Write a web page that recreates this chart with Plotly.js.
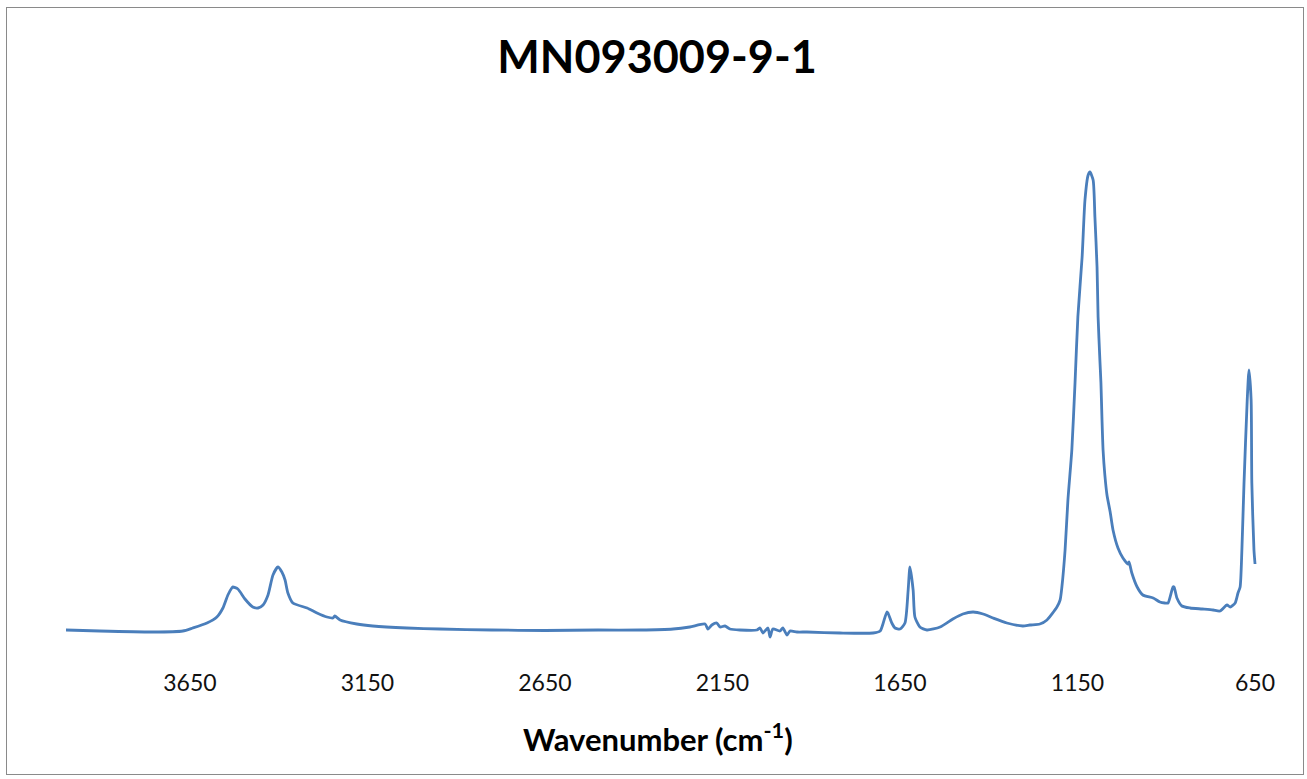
<!DOCTYPE html>
<html>
<head>
<meta charset="utf-8">
<script src="https://cdn.plot.ly/plotly-3.0.1.min.js"></script>
<style>
  html, body { margin: 0; padding: 0; background: #fff; }
  #wrap { position: relative; width: 1307px; height: 779px; }
  #chart { width: 1307px; height: 779px; }
  #frame { position: absolute; left: 6px; top: 7px; width: 1298px; height: 768px;
           border: 1px solid #8a8a8a; pointer-events: none; box-sizing: border-box; }
</style>
</head>
<body>
<div id="wrap">
  <div id="chart"></div>
  <div id="frame"></div>
</div>
<script>
// Wavenumber (cm-1)
const wavenumber = [
  4000, 3904, 3754, 3670, 3642, 3602, 3574, 3557, 3543, 3532, 3529, 3515, 3495, 3473, 3458,
  3444, 3430, 3416, 3402, 3391, 3382, 3374, 3360, 3320, 3292, 3264, 3247, 3242, 3227, 3180,
  3135, 3039, 2946, 2800, 2650, 2500, 2382, 2289, 2242, 2199, 2191, 2180, 2166, 2157, 2143,
  2129, 2101, 2053, 2044, 2036, 2022, 2016, 2008, 1988, 1980, 1968, 1960, 1940, 1912, 1819,
  1726, 1706, 1698, 1687, 1684, 1673, 1664, 1650, 1636, 1627, 1622, 1613, 1608, 1594, 1574,
  1537, 1501, 1473, 1444, 1416, 1388, 1349, 1304, 1284, 1256, 1236, 1208, 1199, 1194, 1185,
  1177, 1166, 1157, 1149, 1137, 1129, 1120, 1115, 1106, 1101, 1095, 1092, 1087, 1084, 1081,
  1078, 1073, 1067, 1058, 1050, 1036, 1022, 1008, 1005, 997, 982, 966, 937, 918, 904,
  895, 881, 878, 870, 856, 833, 799, 768, 749, 729, 720, 706, 698, 692, 687,
  681, 672, 667, 661, 659, 653, 650
];
// Absorbance (arbitrary units)
const absorbance = [
  0.020, 0.018, 0.016, 0.018, 0.024, 0.034, 0.046, 0.064, 0.090, 0.104, 0.106, 0.102, 0.082, 0.066, 0.064,
  0.070, 0.090, 0.130, 0.146, 0.136, 0.120, 0.094, 0.074, 0.064, 0.054, 0.046, 0.044, 0.048, 0.040, 0.032,
  0.028, 0.024, 0.022, 0.020, 0.019, 0.020, 0.020, 0.022, 0.026, 0.032, 0.022, 0.030, 0.034, 0.026, 0.028,
  0.022, 0.020, 0.020, 0.024, 0.014, 0.024, 0.006, 0.022, 0.018, 0.024, 0.010, 0.018, 0.016, 0.016, 0.014,
  0.014, 0.018, 0.032, 0.056, 0.054, 0.034, 0.024, 0.022, 0.034, 0.100, 0.146, 0.100, 0.046, 0.026, 0.020,
  0.026, 0.042, 0.052, 0.056, 0.052, 0.044, 0.034, 0.028, 0.030, 0.032, 0.040, 0.066, 0.080, 0.106, 0.180,
  0.280, 0.380, 0.514, 0.646, 0.766, 0.880, 0.930, 0.936, 0.920, 0.846, 0.746, 0.646, 0.560, 0.514, 0.440,
  0.380, 0.330, 0.290, 0.256, 0.220, 0.184, 0.164, 0.152, 0.156, 0.134, 0.106, 0.090, 0.084, 0.076, 0.074,
  0.074, 0.106, 0.106, 0.084, 0.068, 0.064, 0.062, 0.060, 0.058, 0.070, 0.066, 0.074, 0.094, 0.106, 0.180,
  0.314, 0.480, 0.540, 0.480, 0.314, 0.180, 0.152
];
const tickValues = [3650, 3150, 2650, 2150, 1650, 1150, 650];
const tickLabels = ['3650', '3150', '2650', '2150', '1650', '1150', '650'];
const chartTitle = 'MN093009-9-1';
const xTitle = 'Wavenumber (cm<sup>-1</sup>)';

const trace = {
  x: wavenumber,
  y: absorbance,
  type: 'scatter',
  mode: 'lines',
  line: { color: '#4A7EBB', width: 2.8, shape: 'spline', smoothing: 0.6 },
  hoverinfo: 'x+y'
};

const layout = {
  width: 1307,
  height: 779,
  margin: { l: 66, r: 47, t: 100, b: 139 },
  paper_bgcolor: '#ffffff',
  plot_bgcolor: '#ffffff',
  showlegend: false,
  title: {
    text: '<b>' + chartTitle + '</b>',
    font: { family: 'Lato, Carlito, sans-serif', size: 45, color: '#000000' },
    x: 0.495, xref: 'paper', xanchor: 'center',
    y: 1 - 57 / 779, yref: 'container', yanchor: 'middle'
  },
  xaxis: {
    range: [3999, 636],
    tickvals: tickValues,
    ticktext: tickLabels,
    ticks: 'outside',
    ticklen: 22,
    tickcolor: 'rgba(0,0,0,0)',
    showline: false,
    showgrid: false,
    zeroline: false,
    tickfont: { family: 'Lato, Carlito, sans-serif', size: 23, color: '#111111' }
  },
  yaxis: {
    range: [0, 1.08],
    showticklabels: false,
    ticks: '',
    showline: false,
    showgrid: false,
    zeroline: false
  },
  annotations: [{
    text: '<b>' + xTitle + '</b>',
    xref: 'paper', yref: 'paper',
    x: 0.496, y: -97 / 540,
    xanchor: 'center', yanchor: 'middle',
    showarrow: false,
    font: { family: 'Lato, Carlito, sans-serif', size: 31, color: '#000000' }
  }]
};

Plotly.newPlot('chart', [trace], layout, { displayModeBar: false, staticPlot: true });
</script>
</body>
</html>
